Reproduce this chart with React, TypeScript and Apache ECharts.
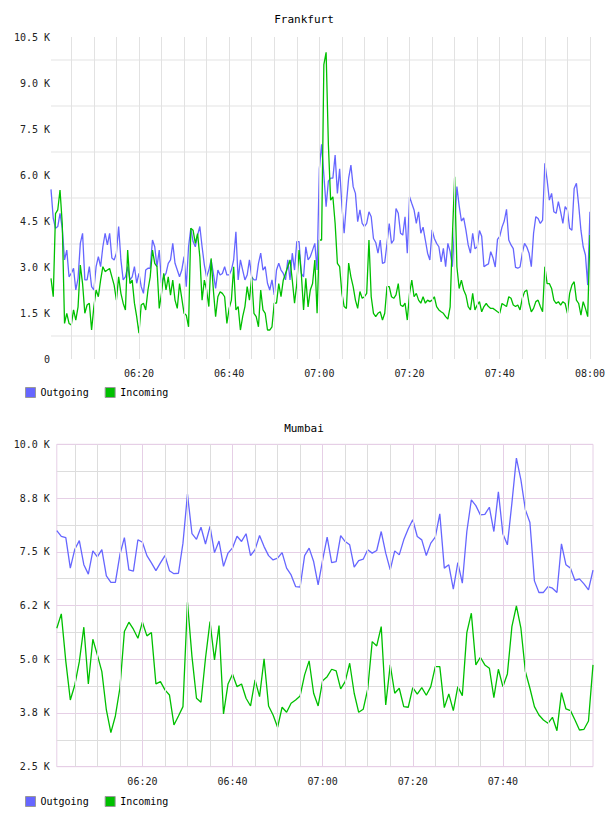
import React, { useEffect, useRef } from 'react';
import * as echarts from 'echarts';

// Frankfurt: one sample every 30 s, first sample at 06:00:30, last at 08:00
const FRA_STEP_MIN = 0.5;
const FRA_OUTGOING = [
  5530, 4590, 4260, 4320, 4750, 4260, 3230, 3550, 2680, 2790, 2960, 2250, 2630, 3770, 4100, 2580, 2580, 3010, 2360, 2250,
  3010, 3340, 3010, 3660, 4100, 3720, 4100, 3290, 3230, 3450, 4320, 3230, 2580, 2680, 3010, 2580, 2680, 3010, 2470, 2790,
  2360, 2140, 2900, 2960, 2960, 3880, 3660, 3010, 3550, 2470, 2680, 2790, 3120, 3230, 3770, 3120, 2900, 2680, 2900, 3340,
  2360, 3660, 4260, 3830, 3660, 4040, 4320, 3660, 3070, 2680, 2900, 3230, 2790, 2300, 2900, 2740, 2790, 3010, 2740, 2740,
  2900, 3230, 4150, 2580, 3230, 2900, 2580, 2740, 3230, 2680, 2580, 2580, 3120, 3450, 2900, 3010, 2470, 2250, 2580, 2090,
  2900, 3120, 2900, 2790, 2580, 3230, 2580, 3450, 2900, 3830, 3830, 2790, 2680, 3660, 3230, 3340, 3550, 3770, 2900, 6200,
  7000, 6000, 4970, 5800, 5900, 5900, 6650, 5400, 6200, 5000, 4100, 5070, 5900, 6320, 5620, 5400, 4480, 4860, 4420, 4320,
  4420, 4800, 4640, 3930, 3800, 3450, 3880, 3120, 3150, 3770, 4420, 3770, 3880, 4910, 4750, 4100, 4040, 4640, 3450, 5290,
  5070, 4860, 4420, 4800, 4100, 4300, 3880, 3450, 3230, 4210, 3930, 3770, 3660, 3170, 3610, 3010, 3770, 3500, 3010, 4300,
  5620, 5000, 4500, 4600, 4200, 3720, 3450, 4100, 3600, 3650, 4190, 4000, 3010, 3060, 3100, 3500, 3300, 3000, 3900, 4000,
  4300, 4500, 4880, 3880, 3720, 3600, 2990, 2960, 3000, 3450, 3770, 3650, 3450, 3010, 4100, 4640, 4580, 4420, 4530, 6380,
  5840, 5180, 5400, 4800, 4750, 5130, 4800, 4420, 4970, 4860, 4260, 4200, 5560, 5730, 5020, 4200, 3660, 3390, 2410, 4800,
];
const FRA_INCOMING = [
  2630, 2030, 4740, 4860, 5510, 4400, 1160, 1490, 1160, 1110, 1600, 1270, 1700, 3060, 2460, 1490, 1760, 1820, 945, 1700,
  2250, 2030, 2570, 3010, 2850, 2900, 2950, 2680, 2410, 1920, 2680, 2140, 1820, 1600, 3550, 2460, 2570, 1820, 1380, 840,
  1760, 1820, 1600, 2250, 2680, 3550, 3120, 3010, 1650, 2140, 2790, 2250, 2680, 2080, 2570, 1920, 1650, 2460, 1980, 1490,
  1430, 1050, 4260, 4200, 3770, 4090, 3330, 1920, 2570, 2250, 1710, 3280, 2250, 1380, 2030, 2190, 2140, 2030, 1160, 1650,
  1920, 3010, 1600, 1710, 945, 1380, 1710, 2360, 1920, 2680, 1490, 1380, 1050, 2250, 1600, 1490, 945, 945, 1050, 1820,
  1820, 2460, 2030, 2570, 2790, 3010, 3230, 2570, 1820, 2460, 3550, 2790, 1600, 2630, 1700, 2250, 2460, 3230, 1490, 3880,
  3880, 9600, 10000, 7000, 5180, 5290, 4420, 3120, 3010, 2140, 1710, 1650, 3130, 2680, 2360, 1920, 1650, 2200, 1980, 2030,
  2140, 3880, 2030, 1490, 1380, 1490, 1540, 1270, 1490, 2360, 2360, 2030, 1980, 2090, 2460, 1760, 1710, 1820, 1270, 2140,
  2570, 2030, 2140, 1920, 1820, 2030, 1820, 1920, 1870, 1920, 2030, 1710, 1600, 1540, 1490, 1380, 1300, 1700, 4000, 5940,
  3010, 2300, 2570, 2250, 2080, 1710, 1600, 2140, 1600, 1760, 1870, 1540, 1710, 1810, 1710, 1650, 1650, 1600, 1540, 1490,
  1810, 1760, 1710, 2030, 1980, 1760, 1710, 1760, 1600, 1980, 2190, 2250, 1810, 1540, 1650, 1870, 1920, 1710, 1540, 3010,
  2460, 2460, 2300, 1920, 1810, 1870, 1760, 1870, 1810, 1490, 2140, 2410, 2520, 1920, 1810, 1430, 1870, 1650, 1380, 4040,
];

// Mumbai: one sample per minute, first at 06:01, last at 08:00
const MUM_STEP_MIN = 1;
const MUM_OUTGOING = [
  7990, 7860, 7830, 7120, 7560, 7760, 7200, 6980, 7520, 7380, 7550, 6940, 6790, 6790, 7430, 7830, 7080, 7050, 7780, 7720,
  7410, 7240, 7060, 7240, 7410, 7060, 6990, 7000, 7700, 8840, 7920, 7790, 8070, 7680, 8090, 7480, 7750, 7160, 7470, 7590,
  7860, 7740, 7920, 7410, 7550, 7880, 7620, 7410, 7310, 7350, 7480, 7120, 6960, 6690, 6680, 7410, 7585, 7272, 6730, 7312,
  7840, 7249, 7272, 7878, 7738, 7661, 7142, 7296, 7327, 7545, 7468, 7529, 7971, 7468, 7079, 7521, 7428, 7777, 8034, 8244,
  7855, 7777, 7412, 7701, 7840, 8382, 7119, 7196, 6630, 7249, 6769, 7971, 8706, 8574, 8359, 8372, 8536, 7971, 8892, 7917,
  7661, 8632, 9677, 9173, 8474, 8180, 6823, 6553, 6553, 6690, 6653, 6553, 7685, 7196, 7119, 6832, 6870, 6754, 6614, 7072,
];
const MUM_INCOMING = [
  5722, 6055, 4950, 4053, 4402, 4944, 5745, 4425, 5466, 5100, 4712, 3820, 3292, 3680, 4325, 5643, 5862, 5699, 5489, 5862,
  5543, 5620, 4425, 4479, 4286, 4169, 3471, 3680, 3897, 6327, 5061, 4092, 3999, 5023, 5876, 4984, 5783, 3727, 4425, 4651,
  4362, 4425, 4092, 3913, 4518, 4130, 5007, 3913, 3704, 3417, 3883, 3766, 3976, 4053, 4146, 4635, 4961, 4209, 3913, 4502,
  4595, 4767, 4728, 4309, 4479, 4907, 4209, 3766, 3836, 4302, 5410, 5310, 5759, 3936, 4868, 4209, 4325, 3897, 3883, 4339,
  4186, 4339, 4162, 4362, 4828, 4828, 3874, 4193, 3804, 4362, 4153, 5620, 6071, 4868, 5047, 4868, 4791, 4107, 4767, 4362,
  4658, 5759, 6241, 5722, 4712, 4325, 3897, 3704, 3587, 3510, 3650, 3338, 4223, 3843, 3804, 3587, 3354, 3370, 3564, 4868,
];

const SERIES_NAMES = ['Outgoing', 'Incoming'];
const FRA_Y_LABELS = ['0', '1.5 K', '3.0 K', '4.5 K', '6.0 K', '7.5 K', '9.0 K', '10.5 K'];
const MUM_Y_LABELS = ['2.5 K', '3.8 K', '5.0 K', '6.2 K', '7.5 K', '8.8 K', '10.0 K'];
// minutes after 06:00
const FRA_X_LABELS = [20, 40, 60, 80, 100, 120];
const MUM_X_LABELS = [20, 40, 60, 80, 100];
const FRA_VGRID = [5, 10, 15, 20, 25, 30, 35, 40, 45, 50, 55, 60, 65, 70, 75, 80, 85, 90, 95, 100, 105, 110, 115, 120];
const MUM_VGRID_MINOR = [5, 10, 15, 25, 30, 35, 45, 50, 55, 65, 70, 75, 85, 90, 95, 105, 110, 115];
const MUM_VGRID_MAJOR = [20, 40, 60, 80, 100];

const BLUE = '#6666ff';
const GREEN = '#00c000';
const PINK = '#e6cfe6';
const MONO = 'DejaVu Sans Mono';

function fmtTime(m: number): string {
  const t = 360 + m;
  const h = Math.floor(t / 60);
  const mm = Math.round(t % 60);
  return String(h).padStart(2, '0') + ':' + String(mm).padStart(2, '0');
}

function toPairs(vals: number[], step: number) {
  return vals.map((v, k) => [(k + 1) * step, v]);
}

function gridLines(idx: number, mins: number[], color: string, z: number) {
  return {
    type: 'line', xAxisIndex: idx, yAxisIndex: idx, data: [], z, silent: true,
    markLine: {
      silent: true, symbol: ['none', 'none'], label: { show: false }, animation: false,
      lineStyle: { color, width: 1, type: 'solid' },
      emphasis: { disabled: true },
      data: mins.map((m) => ({ xAxis: m })),
    },
  };
}

export default function App() {
  const ref = useRef<HTMLDivElement>(null);
  useEffect(() => {
    const chart = echarts.init(ref.current!, null, { renderer: 'svg' });
    const labelStyle = { fontFamily: MONO, fontSize: 10, color: '#222' };
    const titleStyle = { fontFamily: MONO, fontSize: 11, fontWeight: 'normal' as const, color: '#000' };
    const legendBase = {
      left: 25,
      padding: 0,
      itemWidth: 10,
      itemHeight: 10,
      itemGap: 16,
      icon: 'rect',
      data: SERIES_NAMES,
      textStyle: { fontFamily: MONO, fontSize: 10, color: '#000' },
      itemStyle: { borderColor: '#999', borderWidth: 1 },
    };
    const lineSeries = (name: string, color: string, data: number[][], idx: number) => ({
      name,
      type: 'line',
      xAxisIndex: idx,
      yAxisIndex: idx,
      data,
      showSymbol: false,
      symbol: 'none',
      z: 3,
      lineStyle: { color, width: 1.3 },
      itemStyle: { color },
      emphasis: { disabled: true },
    });
    const option = {
      animation: false,
      title: [
        { text: 'Frankfurt', left: 'center', top: 14, padding: 0, textStyle: titleStyle },
        { text: 'Mumbai', left: 'center', top: 423, padding: 0, textStyle: titleStyle },
      ],
      legend: [
        { ...legendBase, top: 387 },
        { ...legendBase, top: 796 },
      ],
      grid: [
        { left: 51, top: 37, width: 540.3, height: 322, show: false },
        { left: 56.8, top: 444.3, width: 536.2, height: 322.4, show: true, borderColor: PINK, borderWidth: 1 },
      ],
      xAxis: [
        {
          type: 'value', gridIndex: 0, min: FRA_STEP_MIN, max: 120,
          axisLine: { show: false }, axisTick: { show: false }, splitLine: { show: false },
          axisLabel: { ...labelStyle, customValues: FRA_X_LABELS, formatter: fmtTime, margin: 9 },
        },
        {
          type: 'value', gridIndex: 1, min: MUM_STEP_MIN, max: 120,
          axisLine: { show: false }, axisTick: { show: false }, splitLine: { show: false },
          axisLabel: { ...labelStyle, customValues: MUM_X_LABELS, formatter: fmtTime, margin: 10 },
        },
      ],
      yAxis: [
        {
          type: 'value', gridIndex: 0, min: 0, max: 10500, interval: 750,
          axisLine: { show: false }, axisTick: { show: false },
          axisLabel: {
            ...labelStyle, margin: 1,
            formatter: (v: number) => (v % 1500 === 0 ? FRA_Y_LABELS[v / 1500] : ''),
          },
          splitLine: { show: true, lineStyle: { color: ['rgba(0,0,0,0)', '#ececec'], width: 1.5 } },
        },
        {
          type: 'value', gridIndex: 1, min: 2500, max: 10000, interval: 625,
          axisLine: { show: false }, axisTick: { show: false },
          axisLabel: {
            ...labelStyle, margin: 7,
            formatter: (v: number) => ((v - 2500) % 1250 === 0 ? MUM_Y_LABELS[(v - 2500) / 1250] : ''),
          },
          splitLine: { show: true, lineStyle: { color: [PINK, '#dddddd'], width: 1 } },
        },
      ],
      series: [
        gridLines(0, FRA_VGRID, '#e2e2e2', 1),
        gridLines(1, MUM_VGRID_MINOR, '#dddddd', 1),
        gridLines(1, MUM_VGRID_MAJOR, PINK, 2),
        lineSeries('Outgoing', BLUE, toPairs(FRA_OUTGOING, FRA_STEP_MIN), 0),
        lineSeries('Incoming', GREEN, toPairs(FRA_INCOMING, FRA_STEP_MIN), 0),
        lineSeries('Outgoing', BLUE, toPairs(MUM_OUTGOING, MUM_STEP_MIN), 1),
        lineSeries('Incoming', GREEN, toPairs(MUM_INCOMING, MUM_STEP_MIN), 1),
      ],
    };
    chart.setOption(option as any);
    return () => chart.dispose();
  }, []);
  return (
    <div
      ref={ref}
      style={{ position: 'absolute', left: 0, top: 0, width: 608, height: 816, background: '#fff' }}
    />
  );
}
